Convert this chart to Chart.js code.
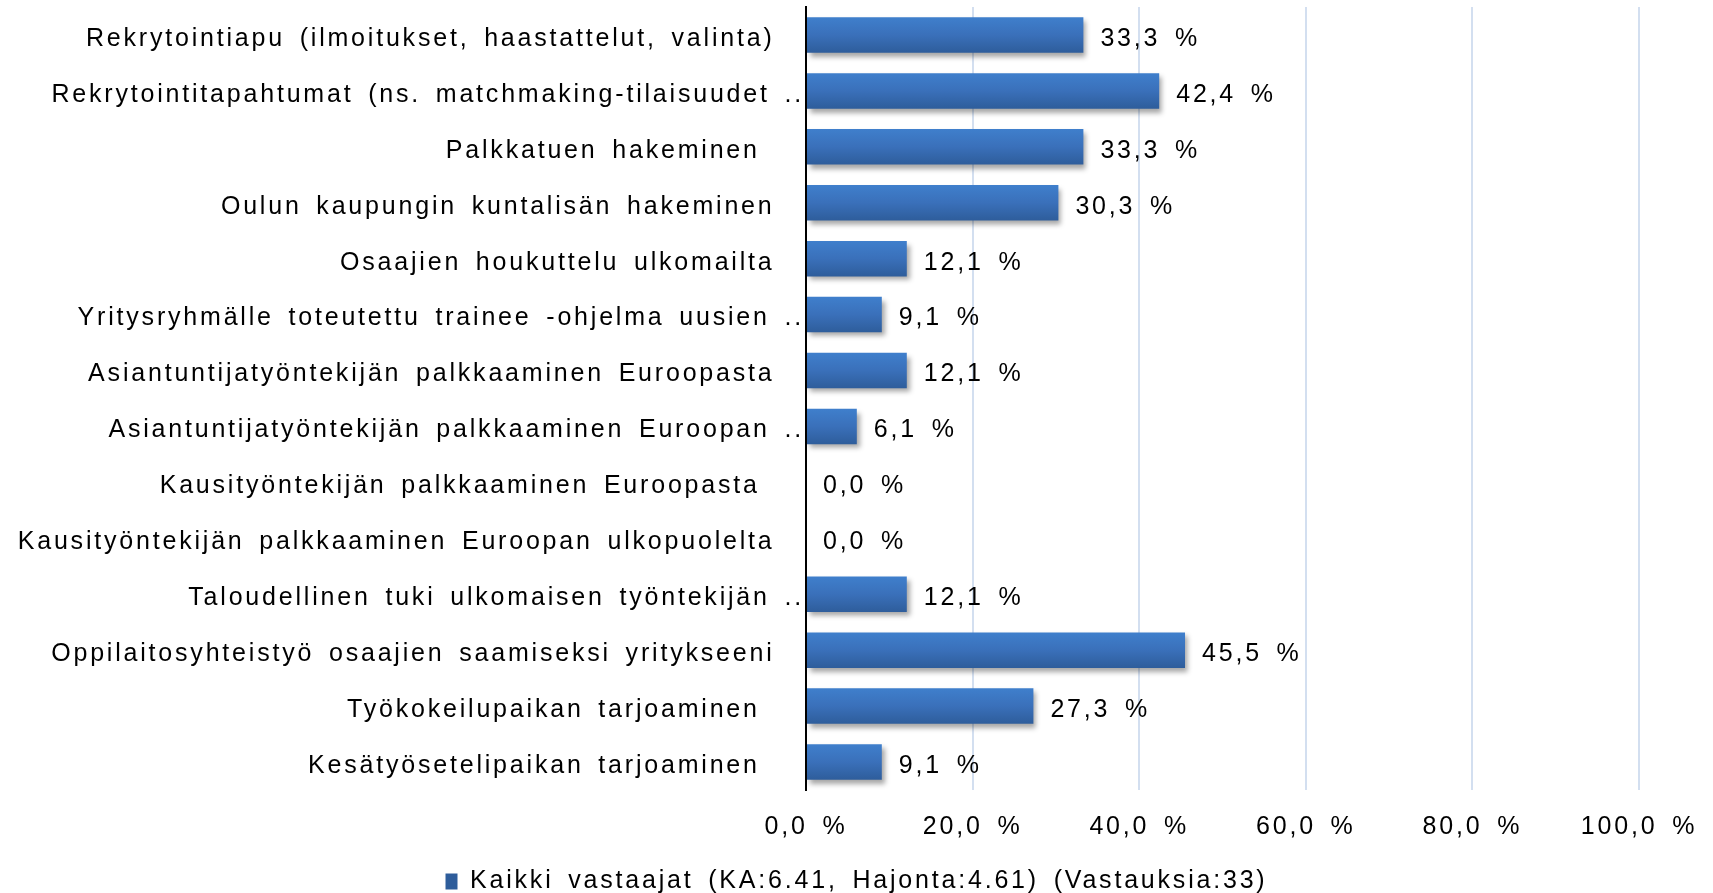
<!DOCTYPE html>
<html>
<head>
<meta charset="utf-8">
<script src="https://cdn.jsdelivr.net/npm/chart.js@4.4.1/dist/chart.umd.min.js"></script>
<style>
  html, body { margin: 0; padding: 0; background: #fff; }
  #wrap { width: 1713px; height: 893px; }
</style>
</head>
<body>
<div id="wrap"><canvas id="chart"></canvas></div>
<script>
const categories = [
    "Rekrytointiapu (ilmoitukset, haastattelut, valinta)",
    "Rekrytointitapahtumat (ns. matchmaking-tilaisuudet ..",
    "Palkkatuen hakeminen ",
    "Oulun kaupungin kuntalisän hakeminen",
    "Osaajien houkuttelu ulkomailta",
    "Yritysryhmälle toteutettu trainee -ohjelma uusien ..",
    "Asiantuntijatyöntekijän palkkaaminen Euroopasta",
    "Asiantuntijatyöntekijän palkkaaminen Euroopan ..",
    "Kausityöntekijän palkkaaminen Euroopasta ",
    "Kausityöntekijän palkkaaminen Euroopan ulkopuolelta",
    "Taloudellinen tuki ulkomaisen työntekijän ..",
    "Oppilaitosyhteistyö osaajien saamiseksi yritykseeni",
    "Työkokeilupaikan tarjoaminen ",
    "Kesätyösetelipaikan tarjoaminen ",
];
const values = [33.3, 42.4, 33.3, 30.3, 12.1, 9.1, 12.1, 6.1, 0.0, 0.0, 12.1, 45.5, 27.3, 9.1];
const xTicks = [0, 20, 40, 60, 80, 100];
const seriesName = "Kaikki vastaajat (KA:6.41, Hajonta:4.61) (Vastauksia:33)";

const FONT_FAMILY = "'Liberation Sans', Arial, sans-serif";
const FONT_SIZE = 25;
const BAR_PCT = 0.635;

function pct(v) {
    return v.toFixed(1).replace(".", ",") + " %";
}

function setSpacing(ctx) {
    ctx.letterSpacing = "2.8px";
    ctx.wordSpacing = "5px";
}

// excel-ish look: spaced text, shadow under bars, labels at bar ends
const excelLook = {
    id: "excelLook",
    beforeLayout(chart) { setSpacing(chart.ctx); },
    afterLayout(chart) {
        // legend sits a bit lower in the original
        if (chart.legend) {
            chart.legend.top += 11;
            chart.legend.bottom += 11;
        }
    },
    beforeDraw(chart) { setSpacing(chart.ctx); },
    beforeDatasetsDraw(chart) {
        const ctx = chart.ctx;
        ctx.save();
        ctx.shadowColor = "rgba(0,0,0,0.35)";
        ctx.shadowBlur = 5;
        ctx.shadowOffsetX = 3;
        ctx.shadowOffsetY = 4;
    },
    afterDatasetsDraw(chart) {
        const ctx = chart.ctx;
        ctx.restore();
        ctx.save();
        setSpacing(ctx);
        ctx.font = FONT_SIZE + "px " + FONT_FAMILY;
        ctx.fillStyle = "#000";
        ctx.textAlign = "left";
        ctx.textBaseline = "middle";
        chart.getDatasetMeta(0).data.forEach((el, i) => {
            ctx.fillText(pct(values[i]), el.x + 17, el.y + 4);
        });
        ctx.restore();
    },
};

function barFill(context) {
    const chart = context.chart;
    const y = chart.scales && chart.scales.y;
    if (!y || !chart.chartArea || context.dataIndex === undefined) return "#3a70b8";
    const c = y.getPixelForValue(context.dataIndex);
    const half = (y.height / categories.length) * BAR_PCT / 2;
    const g = chart.ctx.createLinearGradient(0, c - half, 0, c + half);
    g.addColorStop(0, "#3f7fcc");
    g.addColorStop(0.5, "#3a70ba");
    g.addColorStop(1, "#2e5d9b");
    return g;
}

new Chart(document.getElementById("chart"), {
    type: "bar",
    data: {
        labels: categories,
        datasets: [
            {
                label: seriesName,
                data: values,
                backgroundColor: barFill,
                borderWidth: 0,
                barPercentage: BAR_PCT,
                categoryPercentage: 1,
            },
        ],
    },
    options: {
        indexAxis: "y",
        responsive: true,
        maintainAspectRatio: false,
        animation: false,
        layout: { padding: { top: 7, right: 0, left: 0, bottom: 0 } },
        font: { family: FONT_FAMILY, size: FONT_SIZE },
        scales: {
            x: {
                min: 0,
                max: 100,
                afterBuildTicks: (scale) => {
                    scale.ticks = xTicks.map((v) => ({ value: v }));
                },
                afterFit: (scale) => {
                    const legendH = scale.chart.legend ? scale.chart.legend.height : 0;
                    scale.height = scale.chart.height - 790 - legendH;
                    scale.paddingLeft = 0;
                    scale.paddingRight = 74;
                },
                ticks: {
                    color: "#000",
                    font: { family: FONT_FAMILY, size: FONT_SIZE },
                    padding: 22,
                    maxRotation: 0,
                    callback: (v) => pct(v),
                },
                grid: {
                    drawTicks: false,
                    color: (c) => (c.tick && c.tick.value === 0 ? "rgba(0,0,0,0)" : "#d3dff0"),
                    lineWidth: 2,
                },
                border: { display: false },
            },
            y: {
                afterFit: (scale) => {
                    scale.width = 806;
                    scale.paddingTop = 0;
                    scale.paddingBottom = 0;
                },
                ticks: {
                    color: "#000",
                    font: { family: FONT_FAMILY, size: FONT_SIZE },
                    padding: 2,
                    labelOffset: 4,
                    autoSkip: false,
                    callback: (v, i) => {
                        const s = categories[i];
                        return s.endsWith("..") ? s : s + "  ";
                    },
                },
                grid: { display: false, drawTicks: false },
                border: { display: true, color: "#000", width: 2 },
            },
        },
        plugins: {
            legend: {
                position: "bottom",
                labels: {
                    color: "#000",
                    font: { family: FONT_FAMILY, size: FONT_SIZE },
                    boxWidth: 12,
                    boxHeight: 16,
                    padding: 3,
                },
            },
            tooltip: { enabled: false },
        },
    },
    plugins: [excelLook],
});
</script>
</body>
</html>
